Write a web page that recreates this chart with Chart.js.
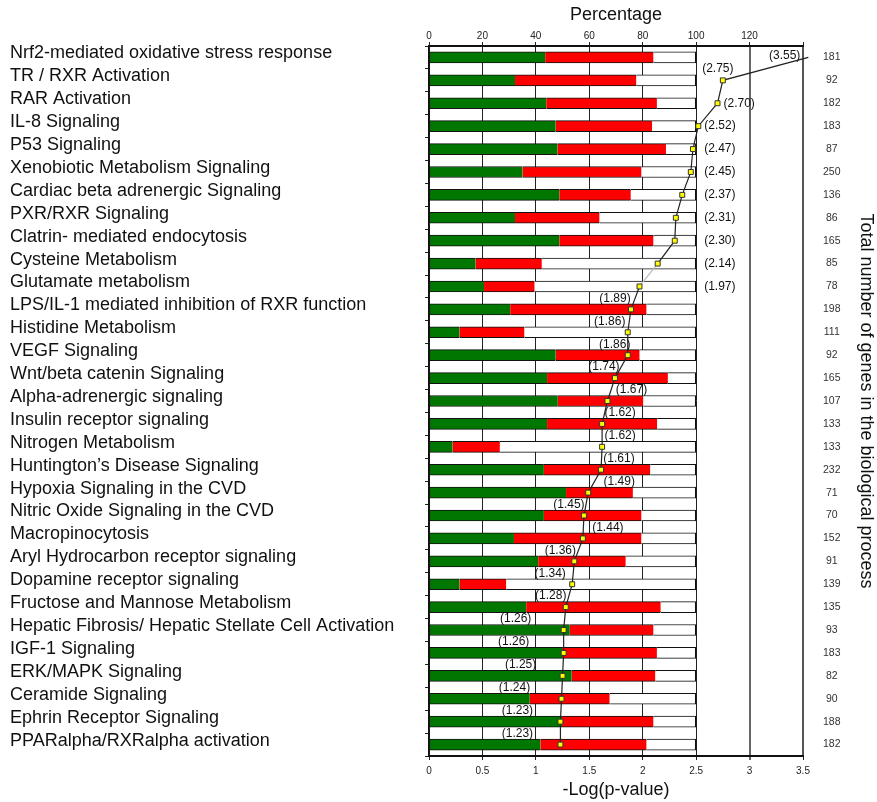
<!DOCTYPE html>
<html>
<head>
<meta charset="utf-8">
<script src="https://cdn.jsdelivr.net/npm/chart.js@4.4.1/dist/chart.umd.min.js"></script>
<style>
  html, body { margin: 0; padding: 0; background: #fff; }
  #wrap { width: 877px; height: 802px; }
</style>
</head>
<body>
<div id="wrap"><canvas id="pathChart" width="877" height="802"></canvas></div>
<script>
// canonical pathways, top to bottom
const pathways = [
  'Nrf2-mediated oxidative stress response',
  'TR / RXR Activation',
  'RAR Activation',
  'IL-8 Signaling',
  'P53 Signaling',
  'Xenobiotic Metabolism Signaling',
  'Cardiac beta adrenergic Signaling',
  'PXR/RXR Signaling',
  'Clatrin- mediated endocytosis',
  'Cysteine Metabolism',
  'Glutamate metabolism',
  'LPS/IL-1 mediated inhibition of RXR function',
  'Histidine Metabolism',
  'VEGF Signaling',
  'Wnt/beta catenin Signaling',
  'Alpha-adrenergic signaling',
  'Insulin receptor signaling',
  'Nitrogen Metabolism',
  'Huntington\u2019s Disease Signaling',
  'Hypoxia Signaling in the CVD',
  'Nitric Oxide Signaling in the CVD',
  'Macropinocytosis',
  'Aryl Hydrocarbon receptor signaling',
  'Dopamine receptor signaling',
  'Fructose and Mannose Metabolism',
  'Hepatic Fibrosis/ Hepatic Stellate Cell Activation',
  'IGF-1 Signaling',
  'ERK/MAPK Signaling',
  'Ceramide Signaling',
  'Ephrin Receptor Signaling',
  'PPARalpha/RXRalpha activation'
];

// % of genes in the pathway (green and red parts of each bar)
const greenPct = [43.5, 32.2, 43.9, 47.4, 48.1, 35.0, 48.8, 32.2, 48.8, 17.4, 20.6,
                  30.4, 11.4, 47.4, 44.2, 48.2, 44.2, 8.8, 43.0, 51.3, 43.0,
                  31.8, 40.9, 11.4, 36.4, 52.7, 49.8, 53.4, 37.7, 49.8, 41.7];
const redPct   = [40.5, 45.4, 41.4, 36.1, 40.6, 44.5, 26.7, 31.6, 35.2, 24.8, 18.9,
                  51.0, 24.3, 31.4, 45.2, 32.0, 41.2, 17.7, 39.8, 25.0, 36.5,
                  47.7, 32.7, 17.5, 50.3, 31.3, 35.5, 31.3, 29.9, 34.2, 39.7];

// -log(p-value) per pathway
const logP = [3.55, 2.75, 2.70, 2.52, 2.47, 2.45, 2.37, 2.31, 2.30, 2.14, 1.97,
              1.89, 1.86, 1.86, 1.74, 1.67, 1.62, 1.62, 1.61, 1.49, 1.45,
              1.44, 1.36, 1.34, 1.28, 1.26, 1.26, 1.25, 1.24, 1.23, 1.23];

// total number of genes in each pathway
const geneTotals = [181, 92, 182, 183, 87, 250, 136, 86, 165, 85, 78,
                    198, 111, 92, 165, 107, 133, 133, 232, 71, 70,
                    152, 91, 139, 135, 93, 183, 82, 90, 188, 182];

const restPct = greenPct.map((g, i) => Math.max(0, 100 - g - redPct[i]));

const FONT = '"Liberation Sans", Arial, Helvetica, sans-serif';

// horizontal nudge of the p-value labels that sit above the lower bars
const labelShift = [0, 0, 0, 0, 0, 0, 0, 0, 0, 0, 0,
                    -16, -18, -13, -11, 24, 18, 18, 18, 31, -15,
                    25, -14, -22, -15, -48, -50, -42, -47, -43, -43];

// writes "(x.xx)" next to each point of the p-value line
const pValueLabels = {
  id: 'pValueLabels',
  afterDatasetsDraw(chart) {
    const meta = chart.getDatasetMeta(3);
    const ctx = chart.ctx;
    const edge = chart.scales.x.getPixelForValue(2.5);
    ctx.save();
    ctx.font = '12px ' + FONT;
    ctx.fillStyle = '#111';
    ctx.textBaseline = 'middle';
    meta.data.forEach((pt, i) => {
      const txt = '(' + logP[i].toFixed(2) + ')';
      let x, y;
      if (i === 0) {
        ctx.textAlign = 'right'; x = pt.x - 8; y = pt.y - 2;
      } else if (i === 1) {
        ctx.textAlign = 'center'; x = pt.x - 5; y = pt.y - 12;
      } else if (i <= 10) {
        ctx.textAlign = 'left'; x = Math.max(pt.x + 6, edge + 8); y = pt.y;
      } else {
        ctx.textAlign = 'center'; x = pt.x + labelShift[i]; y = pt.y - 11;
      }
      ctx.fillText(txt, x, y);
    });
    ctx.restore();
  }
};

const segBorder = (l, r) => ({ top: 1, bottom: 1, left: l, right: r });

new Chart(document.getElementById('pathChart'), {
  data: {
    labels: pathways,
    datasets: [
      {
        type: 'bar', data: greenPct, xAxisID: 'x2', stack: 'p', order: 1,
        backgroundColor: '#007700', borderColor: '#111',
        borderWidth: segBorder(1, 0), borderSkipped: false, barThickness: 11
      },
      {
        type: 'bar', data: redPct, xAxisID: 'x2', stack: 'p', order: 1,
        backgroundColor: '#ff0000', borderColor: '#111',
        borderWidth: segBorder(0, 0), borderSkipped: false, barThickness: 11
      },
      {
        type: 'bar', data: restPct, xAxisID: 'x2', stack: 'p', order: 1,
        backgroundColor: '#ffffff', borderColor: '#111',
        borderWidth: segBorder(0, 1.5), borderSkipped: false, barThickness: 11
      },
      {
        type: 'line', data: logP, xAxisID: 'x', indexAxis: 'y', order: 0,
        borderColor: '#222', borderWidth: 1.2, fill: false, tension: 0,
        clip: false,
        segment: { borderColor: c => c.p0DataIndex === 9 ? '#bbb' : '#222' },
        pointStyle: 'rect', pointRadius: 3.5,
        pointBackgroundColor: '#ffff00', pointBorderColor: '#333', pointBorderWidth: 1
      }
    ]
  },
  options: {
    indexAxis: 'y',
    responsive: false,
    animation: false,
    layout: { padding: { left: 10, right: 0, top: 0, bottom: 0 } },
    plugins: { legend: { display: false }, tooltip: { enabled: false } },
    scales: {
      y: {
        type: 'category',
        position: 'left',
        offset: true,
        grid: { offset: true, drawOnChartArea: false, tickLength: 4, color: '#222' },
        border: { color: '#111', width: 1.5 },
        ticks: {
          autoSkip: false, crossAlign: 'far', padding: 4, labelOffset: -4,
          color: '#111', font: { family: FONT, size: 18 }
        },
        afterFit: s => { s.width = 419; }
      },
      y2: {
        type: 'category',
        position: 'right',
        labels: geneTotals.map(String),
        offset: true,
        grid: { drawOnChartArea: false, drawTicks: false },
        border: { color: '#555', width: 2 },
        ticks: { autoSkip: false, crossAlign: 'center', padding: 20, color: '#333', font: { family: FONT, size: 10.5 } },
        title: {
          display: true, text: 'Total number of genes in the biological process',
          color: '#111', font: { family: FONT, size: 18 }, padding: { top: 0, bottom: 1 }
        },
        afterFit: s => { s.width = 74; }
      },
      x: {
        type: 'linear',
        position: 'bottom',
        min: 0, max: 3.5,
        ticks: {
          stepSize: 0.5, padding: 5, color: '#222', font: { family: FONT, size: 10 },
          callback: v => String(v)
        },
        grid: {
          color: c => c.tick && c.tick.value === 3 ? '#666' : '#222',
          lineWidth: c => c.tick && c.tick.value === 3 ? 2 : 1,
          tickLength: 4
        },
        border: { color: '#111', width: 2 },
        title: {
          display: true, text: '-Log(p-value)',
          color: '#111', font: { family: FONT, size: 18 }, padding: { top: 0, bottom: 1 }
        },
        afterFit: s => { s.height = 46; }
      },
      x2: {
        type: 'linear',
        position: 'top',
        stacked: true,
        min: 0, max: 140,
        ticks: {
          stepSize: 20, padding: 0, color: '#222', font: { family: FONT, size: 10 },
          callback: v => (v <= 120 ? v : '')
        },
        grid: { drawOnChartArea: false, tickLength: 4, color: '#222' },
        border: { color: '#111', width: 2 },
        title: {
          display: true, text: 'Percentage',
          color: '#111', font: { family: FONT, size: 18 }, padding: { top: 4, bottom: 0 }
        },
        afterFit: s => { s.height = 46; }
      }
    }
  },
  plugins: [pValueLabels]
});
</script>
</body>
</html>
